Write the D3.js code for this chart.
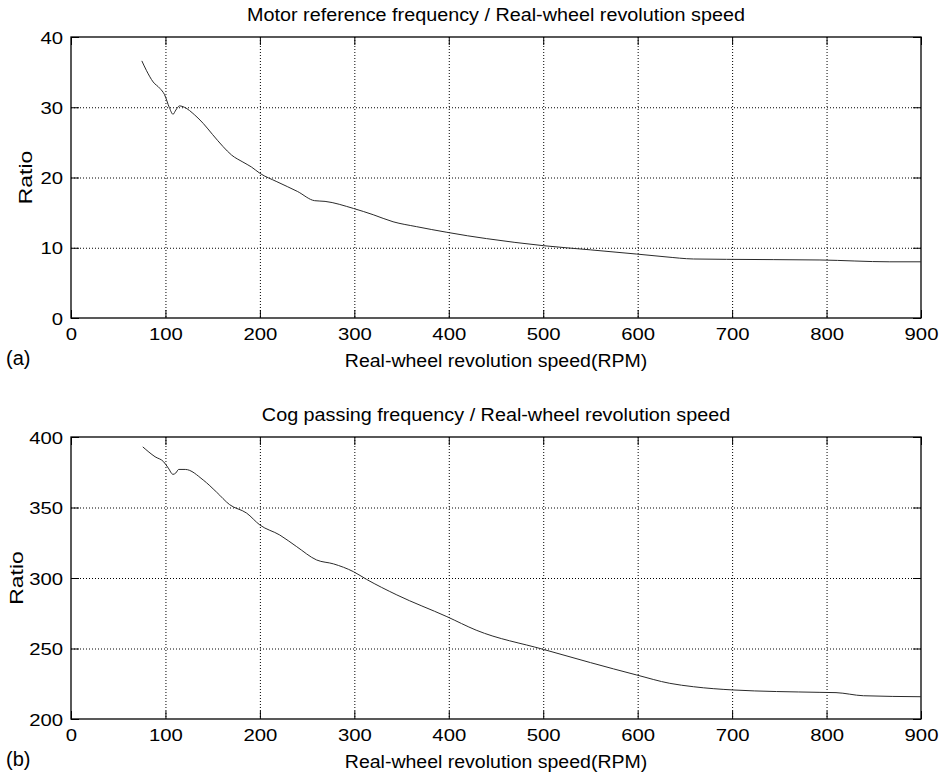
<!DOCTYPE html>
<html>
<head>
<meta charset="utf-8">
<script src="https://cdn.jsdelivr.net/npm/d3@7"></script>
<style>
  body { margin: 0; background: #fff; }
  svg text { font-family: "Liberation Sans", Arial, sans-serif; fill: #000; }
</style>
</head>
<body>
<div id="chart"></div>
<script>
// ---- data ----
var xTicks = [0, 100, 200, 300, 400, 500, 600, 700, 800, 900];

// (a) motor reference frequency / wheel speed
var speedA = [75, 80, 87, 94, 99, 104, 108, 111, 115, 120, 131, 140, 150, 161, 170, 182, 191, 200, 218, 240, 258, 269, 299, 320, 341, 366, 398, 420, 440, 500, 550, 599, 630, 659, 694, 793, 867, 900];
var ratioA = [36.6, 35.2, 33.6, 32.7, 31.8, 30.0, 29.0, 29.6, 30.2, 30.0, 28.9, 27.7, 26.1, 24.4, 23.2, 22.2, 21.5, 20.6, 19.4, 18.0, 16.7, 16.6, 15.6, 14.7, 13.7, 13.0, 12.2, 11.7, 11.3, 10.3, 9.7, 9.1, 8.7, 8.4, 8.35, 8.26, 8.0, 8.0];
var yTicksA = [0, 10, 20, 30, 40];

// (b) cog passing frequency / wheel speed
var speedB = [76, 89, 98, 103, 108, 111, 114, 121, 140, 154, 168, 186, 200, 221, 239, 260, 278, 299, 313, 345, 398, 429, 500, 550, 599, 634, 659, 701, 793, 810, 839, 900];
var ratioB = [393, 386, 382.5, 378, 373.5, 374.5, 377, 377, 369.5, 361, 352, 346, 337.6, 330.5, 322.2, 312.8, 310, 304.5, 299, 288, 272.6, 263, 249.4, 240, 231.2, 225.3, 222.9, 220.6, 218.9, 218.7, 216.5, 215.8];
var yTicksB = [200, 250, 300, 350, 400];

var W = 939, H = 773;
var svg = d3.select("#chart").append("svg")
    .attr("width", W)
    .attr("height", H);

var panels = [
  { top: 37, bottom: 318, xs: speedA, ys: ratioA, yTicks: yTicksA, yDomain: [0, 40], ratioX: 32,
    title: "Motor reference frequency / Real-wheel revolution speed", tag: "(a)" },
  { top: 437, bottom: 719, xs: speedB, ys: ratioB, yTicks: yTicksB, yDomain: [200, 400], ratioX: 23,
    title: "Cog passing frequency / Real-wheel revolution speed", tag: "(b)" }
];

var left = 71, right = 921, tickLen = 8;

// the original glyphs are wider than Arial, so stretch text horizontally
function stretchText(g, x, y, sx, size, str, extra) {
    return g.append("text")
        .attr("transform", "translate(" + x + "," + y + ")" + (extra || "") + " scale(" + sx + ",1)")
        .attr("font-size", size)
        .text(str);
}

panels.forEach(function(p) {
    var x = d3.scaleLinear().domain([0, 900]).range([left, right]);
    var y = d3.scaleLinear().domain(p.yDomain).range([p.bottom, p.top]);
    var g = svg.append("g");

    // dotted grid
    g.selectAll(".vgrid").data(xTicks.slice(1, -1)).enter().append("line")
        .attr("x1", function(d) { return x(d) + .5; }).attr("x2", function(d) { return x(d) + .5; })
        .attr("y1", p.top).attr("y2", p.bottom)
        .attr("stroke", "#000").attr("stroke-width", 1).attr("stroke-dasharray", "1,2");
    g.selectAll(".hgrid").data(p.yTicks.slice(1, -1)).enter().append("line")
        .attr("y1", function(d) { return y(d) + .5; }).attr("y2", function(d) { return y(d) + .5; })
        .attr("x1", left).attr("x2", right)
        .attr("stroke", "#000").attr("stroke-width", 1).attr("stroke-dasharray", "1,2");

    // inward ticks on all four sides
    var xAxB = d3.axisBottom(x).tickValues(xTicks).tickSize(-tickLen);
    var xAxT = d3.axisTop(x).tickValues(xTicks).tickSize(-tickLen).tickFormat("");
    var yAxL = d3.axisLeft(y).tickValues(p.yTicks).tickSize(-tickLen);
    var yAxR = d3.axisRight(y).tickValues(p.yTicks).tickSize(-tickLen).tickFormat("");

    var axG = [[xAxB, "translate(0," + p.bottom + ")"], [xAxT, "translate(0," + p.top + ")"],
     [yAxL, "translate(" + left + ",0)"], [yAxR, "translate(" + right + ",0)"]].map(function(a) {
        var ax = g.append("g").attr("transform", a[1]).call(a[0]);
        ax.select(".domain").remove();
        ax.selectAll("line").attr("stroke", "#000");
        ax.selectAll("text").attr("x", null).attr("y", null).attr("dy", null)
            .attr("font-size", 16).attr("font-family", "Liberation Sans, Arial, sans-serif");
        return ax;
    });
    // tick label placement (matlab style)
    axG[0].selectAll("text")
        .attr("text-anchor", "middle")
        .attr("transform", "translate(0,22) scale(1.27,1)");
    axG[2].selectAll("text")
        .attr("text-anchor", "end")
        .attr("transform", "translate(-8,6) scale(1.27,1)");

    // box
    g.append("rect")
        .attr("x", left).attr("y", p.top)
        .attr("width", right - left).attr("height", p.bottom - p.top)
        .attr("fill", "none").attr("stroke", "#000").attr("stroke-width", 1.3);

    // curve
    var line = d3.line()
        .x(function(d, i) { return x(p.xs[i]); })
        .y(function(d) { return y(d); })
        .curve(d3.curveMonotoneX);
    g.append("path").datum(p.ys)
        .attr("d", line)
        .attr("fill", "none").attr("stroke", "#2a2a2a").attr("stroke-width", 1);

    // labels
    stretchText(g, (left + right) / 2, p.top - 16, 1.07, 18.5, p.title).attr("text-anchor", "middle");
    stretchText(g, (left + right) / 2, p.bottom + 49, 1.055, 18.5, "Real-wheel revolution speed(RPM)").attr("text-anchor", "middle");
    stretchText(g, p.ratioX, (p.top + p.bottom) / 2, 1.27, 18, "Ratio", " rotate(-90)").attr("text-anchor", "middle");
    g.append("text")
        .attr("x", 6).attr("y", p.bottom + 47)
        .attr("font-family", "Liberation Serif, Times New Roman, serif")
        .attr("font-size", 20)
        .text(p.tag);
});
</script>
</body>
</html>
